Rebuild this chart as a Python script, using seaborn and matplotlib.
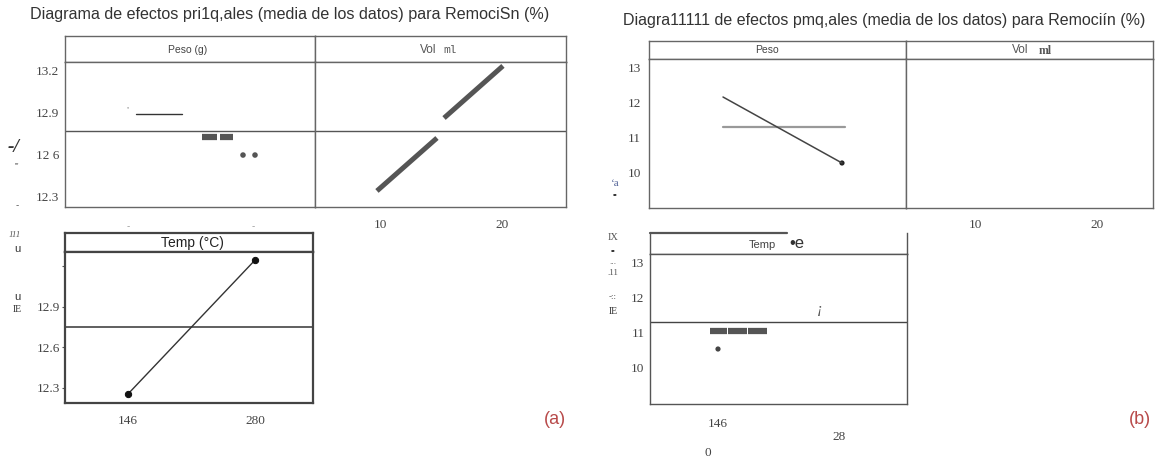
import numpy as np
import pandas as pd
import matplotlib
matplotlib.use("Agg")
import matplotlib.pyplot as plt
import seaborn as sns

# ---------------- data: panel (a) ----------------
peso_a_solid_x = [0.064, 0.432]
peso_a_solid_y = [12.888, 12.888]
peso_a_dash_x = [0.592, 0.712, 0.736, 0.840]
peso_a_dash_y = [12.723, 12.723, 12.723, 12.723]
peso_a_dash_seg = [0, 0, 1, 1]
peso_a_dot_x = [0.92, 1.016]
peso_a_dot_y = [12.594, 12.594]
vol_a_x = [9.75, 14.67, 15.25, 20.08]
vol_a_y = [12.337, 12.716, 12.859, 13.232]
vol_a_seg = [0, 0, 1, 1]
vol_ticks = [10, 20]
temp_levels = [146, 280]
temp_a_means = [12.253, 13.247]
grand_mean_a_top = 12.766
grand_mean_a_temp = 12.75
y_ticks_a = [12.3, 12.6, 12.9, 13.2]
y_labels_a = ["12.3", "12 6", "12.9", "13.2"]
temp_a_ylabels = ["12.3", "12.6", "12.9", ""]

# ---------------- data: panel (b) ----------------
peso_b_x = [0.0, 1.0]
peso_b_means = [12.163, 10.26]
peso_b_ref_x = [0.0, 1.025]
grand_mean_b = 11.298
temp_b_dash_x = [137.1, 156.0, 157.1, 178.1, 179.2, 200.2]
temp_b_dash_y = [11.039] * 6
temp_b_dash_seg = [0, 0, 1, 1, 2, 2]
temp_b_dot_x = [146]
temp_b_dot_y = [10.52]
y_ticks_b = [10, 11, 12, 13]

title_a = "Diagrama de efectos pri1q,ales (media de los datos) para RemociSn (%)"
title_b = "Diagra11111 de efectos pmq,ales (media de los datos) para Remociín (%)"

sns.set_theme(style="white")
plt.rcParams["font.family"] = ["Liberation Sans", "DejaVu Sans"]

W, H = 1161, 459
fig = plt.figure(figsize=(W / 100, H / 100), dpi=100)
fig.patch.set_facecolor("white")


def add_ax(x0, y0, x1, y1):
    return fig.add_axes([x0 / W, 1 - y1 / H, (x1 - x0) / W, (y1 - y0) / H])


def ftext(x, y, s, **kw):
    kw.setdefault("ha", "center")
    kw.setdefault("va", "center")
    fig.text(x / W, 1 - y / H, s, **kw)


def frame(ax, color="#666666", lw=1.0):
    for sp in ax.spines.values():
        sp.set_visible(True)
        sp.set_color(color)
        sp.set_linewidth(lw)
    ax.set_facecolor("white")


def strip(x0, y0, x1, y1, color="#666666", lw=1.0):
    ax = add_ax(x0, y0, x1, y1)
    frame(ax, color, lw)
    ax.set_xticks([])
    ax.set_yticks([])
    ax.set_xlim(0, 1)
    ax.set_ylim(0, 1)
    return ax


SERIF = ["Liberation Serif", "DejaVu Serif"]
tickfont = dict(family=SERIF, size=9.5)

# ======================= panel (a) =======================
ftext(290, 15, title_a, fontsize=11.6, color="#333333")

strip(65, 36, 315, 62)
strip(315, 36, 566, 62)
ftext(188, 50, "Peso (g)", fontsize=7.5, color="#444444")
ftext(428, 50, "Vol", fontsize=8.5, color="#555555")
ftext(450, 50, "ml", fontsize=8, color="#555555", family=["Liberation Mono", "DejaVu Sans Mono"])

ax_pa = add_ax(65, 62, 315, 207)
ax_va = add_ax(315, 62, 566, 207)
for ax in (ax_pa, ax_va):
    frame(ax)
    ax.set_ylim(12.222, 13.260)
    ax.axhline(grand_mean_a_top, color="#555555", lw=1.0)

df = pd.DataFrame({"x": peso_a_solid_x, "y": peso_a_solid_y})
sns.lineplot(data=df, x="x", y="y", ax=ax_pa, color="#333333", lw=1.0)
df = pd.DataFrame({"x": peso_a_dash_x, "y": peso_a_dash_y, "s": peso_a_dash_seg})
sns.lineplot(data=df, x="x", y="y", hue="s", palette=["#555555", "#555555"],
             ax=ax_pa, lw=4.5, legend=False, solid_capstyle="butt")
df = pd.DataFrame({"x": peso_a_dot_x, "y": peso_a_dot_y})
sns.scatterplot(data=df, x="x", y="y", ax=ax_pa, color="#555555", s=16, edgecolor="none")
ax_pa.text(0.0, 12.91, "''", fontsize=6, color="#999999", ha="center")
ax_pa.set_xlim(-0.504, 1.496)
ax_pa.set_yticks(y_ticks_a)
ax_pa.set_yticklabels(y_labels_a, fontdict=tickfont, color="#444444")
ax_pa.set_xticks([0, 1])
ax_pa.set_xticklabels(["-", "-"], fontsize=7, color="#999999")
ax_pa.tick_params(axis="y", length=0, pad=4)
ax_pa.tick_params(axis="x", length=0, pad=10)
ax_pa.set_xlabel("")
ax_pa.set_ylabel("")

df = pd.DataFrame({"x": vol_a_x, "y": vol_a_y, "s": vol_a_seg})
sns.lineplot(data=df, x="x", y="y", hue="s", palette=["#555555", "#555555"],
             ax=ax_va, lw=3.6, legend=False, solid_capstyle="butt")
ax_va.set_xlim(4.67, 25.25)
ax_va.set_yticks([])
ax_va.set_xticks(vol_ticks)
ax_va.set_xticklabels([str(v) for v in vol_ticks], fontdict=tickfont, color="#444444")
ax_va.tick_params(axis="x", length=0, pad=9)
ax_va.set_xlabel("")
ax_va.set_ylabel("")

# Temp (a)
strip(65, 233, 313, 252, color="#444444", lw=1.6)
ftext(192, 243, "Temp (°C)", fontsize=10, color="#222222")
ax_ta = add_ax(65, 252, 313, 403)
frame(ax_ta, "#444444", 1.6)
ax_ta.axhline(grand_mean_a_temp, color="#444444", lw=1.2)
df = pd.DataFrame({"x": temp_levels, "y": temp_a_means})
sns.lineplot(data=df, x="x", y="y", ax=ax_ta, color="#333333", lw=1.0,
             marker="o", markersize=4.5, markeredgecolor="#111111",
             markerfacecolor="#111111")
ax_ta.set_xlim(79.5, 341.2)
ax_ta.set_ylim(12.186, 13.307)
ax_ta.set_yticks(y_ticks_a)
ax_ta.set_yticklabels(temp_a_ylabels, fontdict=tickfont, color="#444444")
ax_ta.set_xticks(temp_levels)
ax_ta.set_xticklabels([str(v) for v in temp_levels], fontdict=tickfont, color="#444444")
ax_ta.tick_params(axis="y", length=2.5, width=0.8, color="#555555", pad=1, left=True)
ax_ta.tick_params(axis="x", length=0, pad=9)
ax_ta.set_xlabel("")
ax_ta.set_ylabel("")

# garbled axis-label remnants (a)
gcol = "#555555"
ftext(14, 147, "-/", fontsize=14, color="#333333", family=SERIF, style="italic", weight="bold")
ftext(17, 167, "'''", fontsize=6, color=gcol, family=SERIF)
ftext(17, 205, "-", fontsize=7, color=gcol)
ftext(15, 235, "111", fontsize=6.5, color=gcol, family=SERIF, style="italic")
ftext(17, 249, "u", fontsize=8, color="#333333")
ftext(17, 297, "u", fontsize=8, color="#333333")
ftext(17, 310, "IE", fontsize=7, color="#333333", family=SERIF)

ftext(555, 420, "(a)", fontsize=13, color="#b84a4a")

# ======================= panel (b) =======================
ftext(884, 20, title_b, fontsize=11.5, color="#333333")

strip(649, 41, 906, 59)
strip(906, 41, 1153, 59)
ftext(767, 50, "Peso", fontsize=7.5, color="#444444")
ftext(1020, 50, "Vol", fontsize=8.5, color="#555555")
ftext(1045, 51, "ml", fontsize=8.5, color="#555555", family=SERIF, weight="bold")

ax_pb = add_ax(649, 59, 906, 208)
ax_vb = add_ax(906, 59, 1153, 208)
for ax in (ax_pb, ax_vb):
    frame(ax)
    ax.set_ylim(8.962, 13.259)

df = pd.DataFrame({"x": peso_b_ref_x, "y": [grand_mean_b, grand_mean_b]})
sns.lineplot(data=df, x="x", y="y", ax=ax_pb, color="#999999", lw=1.6)
df = pd.DataFrame({"x": peso_b_x, "y": peso_b_means})
sns.lineplot(data=df, x="x", y="y", ax=ax_pb, color="#444444", lw=1.1)
df = pd.DataFrame({"x": peso_b_x[-1:], "y": peso_b_means[-1:]})
sns.scatterplot(data=df, x="x", y="y", ax=ax_pb, color="#222222", s=14, edgecolor="none")
ax_pb.set_xlim(-0.622, 1.538)
ax_pb.set_yticks(y_ticks_b)
ax_pb.set_yticklabels([str(v) for v in y_ticks_b], fontdict=tickfont, color="#444444")
ax_pb.set_xticks([])
ax_pb.tick_params(axis="y", length=0, pad=6)
ax_pb.set_xlabel("")
ax_pb.set_ylabel("")

ax_vb.set_xlim(4.34, 24.59)
ax_vb.set_yticks([])
ax_vb.set_xticks(vol_ticks)
ax_vb.set_xticklabels([str(v) for v in vol_ticks], fontdict=tickfont, color="#444444")
ax_vb.tick_params(axis="x", length=0, pad=8)

# Temp (b)
s_tb = add_ax(650, 233, 907, 254)
frame(s_tb, "#555555", 1.0)
s_tb.spines["top"].set_visible(False)
s_tb.set_xlim(0, 1)
s_tb.set_ylim(0, 1)
s_tb.set_xticks([])
s_tb.set_yticks([])
s_tb.axhline(1.0, xmin=0, xmax=0.533, color="#555555", lw=1.6, clip_on=False)
ftext(762, 245, "Temp", fontsize=8, color="#444444")
ftext(797, 243, "•e", fontsize=12, color="#333333")

ax_tb = add_ax(650, 254, 907, 404)
frame(ax_tb, "#555555", 1.0)
ax_tb.axhline(grand_mean_b, color="#444444", lw=1.0)
df = pd.DataFrame({"x": temp_b_dash_x, "y": temp_b_dash_y, "s": temp_b_dash_seg})
sns.lineplot(data=df, x="x", y="y", hue="s", palette=["#555555"] * 3,
             ax=ax_tb, lw=4.5, legend=False, solid_capstyle="butt")
df = pd.DataFrame({"x": temp_b_dot_x, "y": temp_b_dot_y})
sns.scatterplot(data=df, x="x", y="y", ax=ax_tb, color="#444444", s=14, edgecolor="none")
ax_tb.text(259, 11.65, "¡", fontsize=11, color="#555555", ha="center", va="center",
           family=SERIF, style="italic")
ax_tb.set_xlim(70.7, 355.3)
ax_tb.set_ylim(8.935, 13.258)
ax_tb.set_yticks(y_ticks_b)
ax_tb.set_yticklabels([str(v) for v in y_ticks_b], fontdict=tickfont, color="#444444")
ax_tb.set_xticks(temp_levels[:1])
ax_tb.set_xticklabels([str(temp_levels[0])], fontdict=tickfont, color="#444444")
ax_tb.tick_params(axis="y", length=0, pad=4)
ax_tb.tick_params(axis="x", length=0, pad=10)
ax_tb.set_xlabel("")
ax_tb.set_ylabel("")
ftext(839, 437, "28", fontsize=9.5, color="#444444", family=SERIF)
ftext(708, 453, "0", fontsize=9.5, color="#444444", family=SERIF)

# garbled axis-label remnants (b)
ftext(615, 183, "ʻa", fontsize=8, color="#556699", family=SERIF)
ftext(615, 195, "••", fontsize=5, color="#333333")
ftext(613, 237, "IX", fontsize=7.5, color=gcol, family=SERIF)
ftext(613, 251, "••", fontsize=5, color="#333333")
ftext(613, 262, "...", fontsize=6, color=gcol)
ftext(613, 273, ".11", fontsize=6.5, color=gcol, family=SERIF)
ftext(613, 297, "-::", fontsize=6.5, color=gcol, family=SERIF)
ftext(613, 311, "IE", fontsize=7, color="#333333", family=SERIF)

ftext(1140, 420, "(b)", fontsize=13, color="#b84a4a")

fig.savefig("out.png", dpi=100, facecolor="white")
